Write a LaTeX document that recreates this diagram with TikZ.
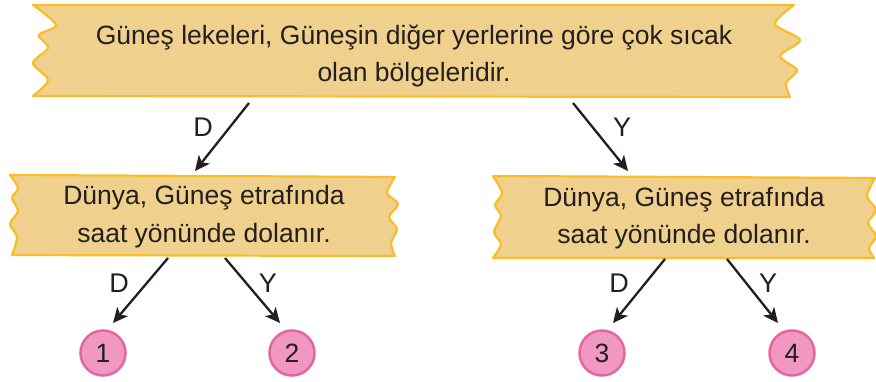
\documentclass[tikz,border=0pt]{standalone}
\usepackage{fontspec}
\setmainfont{Liberation Sans}
\usetikzlibrary{arrows.meta}
\definecolor{bfill}{RGB}{239,208,140}
\definecolor{bline}{RGB}{250,188,40}
\definecolor{pfill}{RGB}{240,152,194}
\definecolor{pline}{RGB}{228,102,160}
\definecolor{ink}{RGB}{35,31,32}
\tikzset{
  banner/.style={draw=bline, fill=bfill, line width=2.2pt, line join=round},
  txt/.style={font=\fontsize{26.5}{37}\selectfont, text=ink, inner sep=0pt, anchor=base},
  lbl/.style={font=\fontsize{27}{30}\selectfont, text=ink, inner sep=0pt, anchor=base},
  arr/.style={draw=ink, line width=2.3pt, -{Stealth[length=15pt,width=14pt,inset=4pt]}},
  num/.style={circle, draw=pline, fill=pfill, line width=2.5pt, minimum size=45pt, inner sep=0pt,
    font=\fontsize{26.5}{30}\selectfont, text=ink}
}
\begin{document}
\begin{tikzpicture}[x=1pt,y=-1pt]
\useasboundingbox (0,0) rectangle (876,382);
% top banner
\draw[banner] (33,5) -- (794,5)
  -- plot[smooth,tension=0.5] coordinates {(794,5) (775,24) (800,40) (780,56) (797,70) (786,83) (790,97)}
  -- (33,96)
  -- plot[smooth,tension=0.5] coordinates {(33,96) (48,80) (33,63) (48,48) (39,35) (56,25) (33,5)}
  -- cycle;
% left banner
\draw[banner] (10,175) -- (395,177)
  -- plot[smooth,tension=0.5] coordinates {(395,177) (387,193) (398,204) (389,217) (397,229) (391,243) (395,256)}
  -- (12,255)
  -- plot[smooth,tension=0.5] coordinates {(12,255) (17,237) (10,224) (18,211) (12,198) (18,188) (10,175)}
  -- cycle;
% right banner
\draw[banner] (493,176) -- (875,178)
  -- plot[smooth,tension=0.5] coordinates {(875,178) (867,196) (876,210) (868,223) (876,236) (869,248) (874,258)}
  -- (493,258)
  -- plot[smooth,tension=0.5] coordinates {(493,258) (501,244) (494,232) (501,216) (495,205) (502,193) (493,176)}
  -- cycle;
% texts
\node[txt] (t1) at (414,45) {Güneş lekeleri, Güneşin diğer yerlerine göre çok sıcak};
\node[txt] (t2) at (414,82) {olan bölgeleridir.};
\node[txt] (l1) at (204,205) {Dünya, Güneş etrafında};
\node[txt] (l2) at (204,243) {saat yönünde dolanır.};
\node[txt] (r1) at (684,207) {Dünya, Güneş etrafında};
\node[txt] (r2) at (684,244) {saat yönünde dolanır.};
% circles
\node[num] (n1) at (103,353) {1};
\node[num] (n2) at (292,353) {2};
\node[num] (n3) at (602,353) {3};
\node[num] (n4) at (792,353) {4};
% arrow end points
\coordinate (a1s) at (249,103); \coordinate (a1e) at (195,171);
\coordinate (a2s) at (573,103); \coordinate (a2e) at (628,171);
\coordinate (b1s) at (168,258); \coordinate (b1e) at (113,323);
\coordinate (b2s) at (225,258); \coordinate (b2e) at (280,323);
\coordinate (c1s) at (665,259); \coordinate (c1e) at (613,323);
\coordinate (c2s) at (727,259); \coordinate (c2e) at (778,323);
\draw[arr] (a1s) -- (a1e);
\draw[arr] (a2s) -- (a2e);
\draw[arr] (b1s) -- (b1e);
\draw[arr] (b2s) -- (b2e);
\draw[arr] (c1s) -- (c1e);
\draw[arr] (c2s) -- (c2e);
% labels
\node[lbl] (d1) at (203,137) {D};
\node[lbl] (y1) at (622,137) {Y};
\node[lbl] (d2) at (119,293) {D};
\node[lbl] (y2) at (268,293) {Y};
\node[lbl] (d3) at (619,293) {D};
\node[lbl] (y3) at (768,293) {Y};
\end{tikzpicture}
\end{document}
